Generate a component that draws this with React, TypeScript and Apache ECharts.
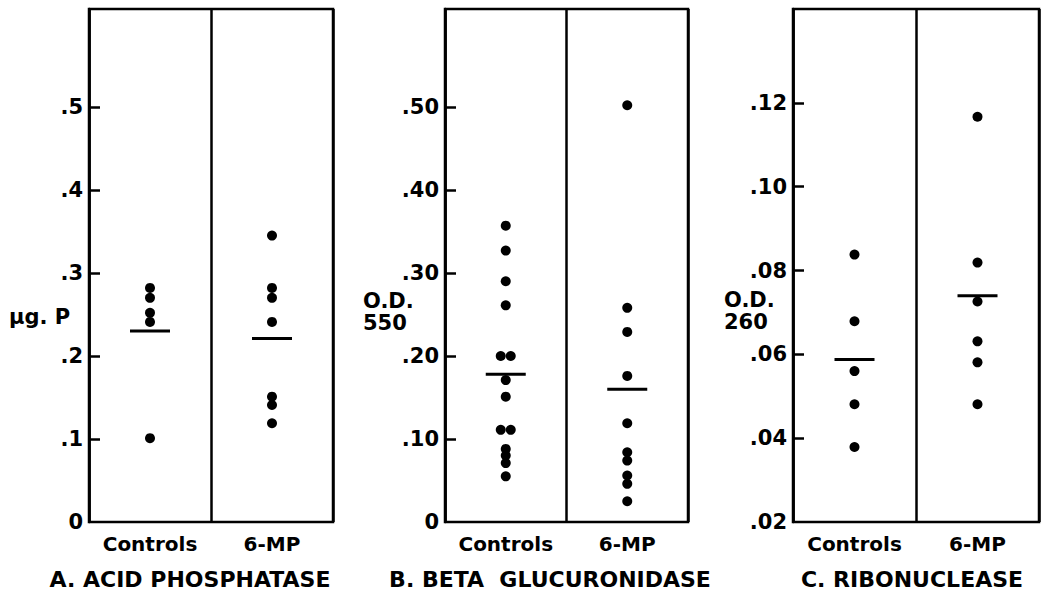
import React, { useEffect, useRef } from "react";
import * as echarts from "echarts";

const groups = ["Controls", "6-MP"];

// A. Acid phosphatase (µg. P)
const acidControls = [0.282, 0.27, 0.252, 0.241, 0.101];
const acidMP = [0.345, 0.282, 0.27, 0.241, 0.151, 0.141, 0.119];
const acidMeans = [0.23, 0.221];
const acidTicks = [0, 0.1, 0.2, 0.3, 0.4, 0.5];

// B. Beta glucuronidase (O.D. 550)
const betaControls = [0.357, 0.327, 0.29, 0.261, 0.2, 0.2, 0.171, 0.151, 0.111, 0.111, 0.088, 0.08, 0.071, 0.055];
const betaMP = [0.502, 0.258, 0.229, 0.176, 0.119, 0.084, 0.074, 0.056, 0.046, 0.025];
const betaMeans = [0.178, 0.16];
const betaTicks = [0, 0.1, 0.2, 0.3, 0.4, 0.5];

// C. Ribonuclease (O.D. 260)
const riboControls = [0.0838, 0.0679, 0.056, 0.0481, 0.0379];
const riboMP = [0.1167, 0.0819, 0.0726, 0.0631, 0.0581, 0.0481];
const riboMeans = [0.0588, 0.074];
const riboTicks = [0.02, 0.04, 0.06, 0.08, 0.1, 0.12];

const panelTitles = ["A. ACID PHOSPHATASE", "B. BETA  GLUCURONIDASE", "C. RIBONUCLEASE"];

const FONT = "DejaVu Sans";
const INK = "#000";

function dots(values: number[], cat: number) {
  const seen: Record<string, number> = {};
  return values.map((v) => {
    const n = values.filter((x) => x === v).length;
    if (n === 1) return [cat, v];
    const k = (seen[v] = (seen[v] || 0) + 1) - 1;
    return { value: [cat, v], symbolOffset: [(k - (n - 1) / 2) * 10, 0] };
  });
}

export default function App() {
  const ref = useRef<HTMLDivElement>(null);
  useEffect(() => {
    if (!ref.current) return;
    const chart = echarts.init(ref.current, null, { renderer: "svg" });
    const panels = [
      { left: 89, width: 244, min: 0, max: 0.618, ticks: acidTicks, dec: 1, c: acidControls, m: acidMP, means: acidMeans },
      { left: 445, width: 243, min: 0, max: 0.618, ticks: betaTicks, dec: 2, c: betaControls, m: betaMP, means: betaMeans },
      { left: 793, width: 246, min: 0.02, max: 0.1424, ticks: riboTicks, dec: 2, c: riboControls, m: riboMP, means: riboMeans },
    ];
    const fmt = (dec: number) => (v: number) => (v === 0 ? "0" : v.toFixed(dec).replace(/^0/, ""));
    const grid = panels.map((p) => ({
      left: p.left,
      width: p.width,
      top: 9,
      bottom: 70,
      show: true,
      borderColor: INK,
      borderWidth: 2.5,
      backgroundColor: "transparent",
    }));
    const xAxis = panels.map((p, i) => ({
      type: "category",
      gridIndex: i,
      data: groups,
      boundaryGap: true,
      axisLine: { show: false },
      axisTick: { show: false, interval: 0 },
      splitLine: { show: true, interval: 0, lineStyle: { color: INK, width: 2.5 } },
      axisLabel: { interval: 0, hideOverlap: false, color: INK, fontFamily: FONT, fontWeight: "bold", fontSize: 20, margin: 12 },
    }));
    const yAxis = panels.map((p, i) => ({
      type: "value",
      gridIndex: i,
      min: p.min,
      max: p.max,
      axisLine: { show: true, lineStyle: { color: INK, width: 2.5 } },
      axisTick: {
        show: true,
        inside: true,
        length: 11,
        lineStyle: { color: INK, width: 2.5 },
        customValues: p.ticks.slice(1),
      },
      splitLine: { show: false },
      axisLabel: {
        color: INK,
        fontFamily: FONT,
        fontWeight: "bold",
        fontSize: 21,
        margin: 6,
        customValues: p.ticks,
        formatter: fmt(p.dec),
      },
    }));
    const series: any[] = [];
    panels.forEach((p, i) => {
      series.push({
        type: "scatter",
        xAxisIndex: i,
        yAxisIndex: i,
        symbol: "circle",
        symbolSize: 10,
        itemStyle: { color: INK, opacity: 1 },
        data: [...dots(p.c, 0), ...dots(p.m, 1)],
      });
      series.push({
        type: "scatter",
        xAxisIndex: i,
        yAxisIndex: i,
        symbol: "rect",
        symbolSize: [40, 3],
        itemStyle: { color: INK, opacity: 1 },
        data: p.means.map((v, k) => [k, v]),
      });
    });
    const textStyle = { fill: INK, fontFamily: FONT, fontWeight: "bold", fontSize: 21 };
    const graphic: any[] = [
      { type: "text", left: 9, top: 306, style: { ...textStyle, text: "µg. P" } },
      { type: "text", left: 363, top: 290, style: { ...textStyle, text: "O.D." } },
      { type: "text", left: 363, top: 312, style: { ...textStyle, text: "550" } },
      { type: "text", left: 724, top: 289, style: { ...textStyle, text: "O.D." } },
      { type: "text", left: 724, top: 311, style: { ...textStyle, text: "260" } },
    ];
    const titleCenters = [190, 550, 912];
    panelTitles.forEach((t, i) => {
      graphic.push({
        type: "text",
        x: titleCenters[i],
        y: 579,
        style: { ...textStyle, fontSize: 22, text: t, align: "center", verticalAlign: "middle" },
      });
    });
    chart.setOption({
      animation: false,
      backgroundColor: "#fff",
      grid,
      xAxis,
      yAxis,
      series,
      graphic,
    });
    return () => chart.dispose();
  }, []);
  return <div ref={ref} style={{ width: 1042, height: 592, position: "absolute", left: 0, top: 0 }} />;
}
